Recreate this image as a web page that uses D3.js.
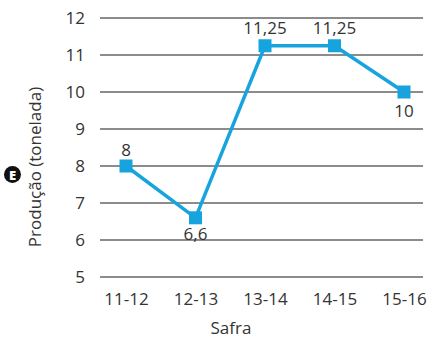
<!DOCTYPE html>
<html>
<head>
<meta charset="utf-8">
<script src="https://cdn.jsdelivr.net/npm/d3@7"></script>
<style>
  body { margin: 0; background: #fff; }
  text { font-family: "Open Sans", sans-serif; fill: #333; }
</style>
</head>
<body>
<div id="chart"></div>
<script>
// data
var safras = ["11-12", "12-13", "13-14", "14-15", "15-16"];
var producao = [8, 6.6, 11.25, 11.25, 10];
var rotulos = ["8", "6,6", "11,25", "11,25", "10"];
var rotuloDy = [-10, 22, -12, -12, 25];
var yTicks = [5, 6, 7, 8, 9, 10, 11, 12];

var width = 427, height = 339;

var svg = d3.select("#chart").append("svg")
    .attr("width", width)
    .attr("height", height);

// scales
var x = d3.scalePoint()
    .domain(safras)
    .range([126, 404]);
var y = d3.scaleLinear()
    .domain([5, 12])
    .range([277, 18]);

// y tick labels
var yAxis = d3.axisLeft(y)
    .tickValues(yTicks)
    .tickSize(0)
    .tickPadding(15)
    .tickFormat(d3.format("d"));

var yg = svg.append("g")
    .attr("transform", "translate(100,0)")
    .call(yAxis);
yg.select(".domain").remove();
yg.selectAll("text")
    .style("font-size", "17px")
    .style("font-family", "'Open Sans', sans-serif")
    .attr("fill", "#333");

// gridlines
svg.append("g").selectAll("line")
    .data(yTicks)
    .enter().append("line")
    .attr("x1", 100)
    .attr("x2", 423)
    .attr("y1", function(d) { return y(d); })
    .attr("y2", function(d) { return y(d); })
    .attr("stroke", "#666")
    .attr("stroke-width", 1.5);

// x labels
var xAxis = d3.axisBottom(x).tickSize(0).tickPadding(0);
var xg = svg.append("g")
    .attr("transform", "translate(0,293)")
    .call(xAxis);
xg.select(".domain").remove();
xg.selectAll("text")
    .style("font-size", "17px")
    .style("font-family", "'Open Sans', sans-serif")
    .attr("fill", "#333");

// line
var line = d3.line()
    .x(function(d, i) { return x(safras[i]); })
    .y(function(d) { return y(d); });

svg.append("path")
    .datum(producao)
    .attr("d", line)
    .attr("fill", "none")
    .attr("stroke", "#17a4de")
    .attr("stroke-width", 3.5);

// markers
var sz = 13;
svg.selectAll(".pt")
    .data(producao)
    .enter().append("rect")
    .attr("class", "pt")
    .attr("x", function(d, i) { return x(safras[i]) - sz / 2; })
    .attr("y", function(d) { return y(d) - sz / 2; })
    .attr("width", sz)
    .attr("height", sz)
    .attr("fill", "#17a4de");

// data labels
svg.selectAll(".lbl")
    .data(producao)
    .enter().append("text")
    .attr("class", "lbl")
    .attr("x", function(d, i) { return x(safras[i]); })
    .attr("y", function(d, i) { return y(d) + rotuloDy[i]; })
    .attr("text-anchor", "middle")
    .style("font-size", "17px")
    .text(function(d, i) { return rotulos[i]; });

// axis titles
svg.append("text")
    .attr("x", 231)
    .attr("y", 334)
    .attr("text-anchor", "middle")
    .style("font-size", "17px")
    .text("Safra");

svg.append("text")
    .attr("transform", "translate(41,167) rotate(-90)")
    .attr("text-anchor", "middle")
    .style("font-size", "17px")
    .text("Produção (tonelada)");

// item marker
svg.append("circle")
    .attr("cx", 12.5)
    .attr("cy", 174.5)
    .attr("r", 8.5)
    .attr("fill", "#111");
svg.append("text")
    .attr("x", 12.5)
    .attr("y", 179.5)
    .attr("text-anchor", "middle")
    .style("font-size", "13px")
    .style("font-weight", "800")
    .style("fill", "#fff")
    .text("E");
</script>
</body>
</html>
